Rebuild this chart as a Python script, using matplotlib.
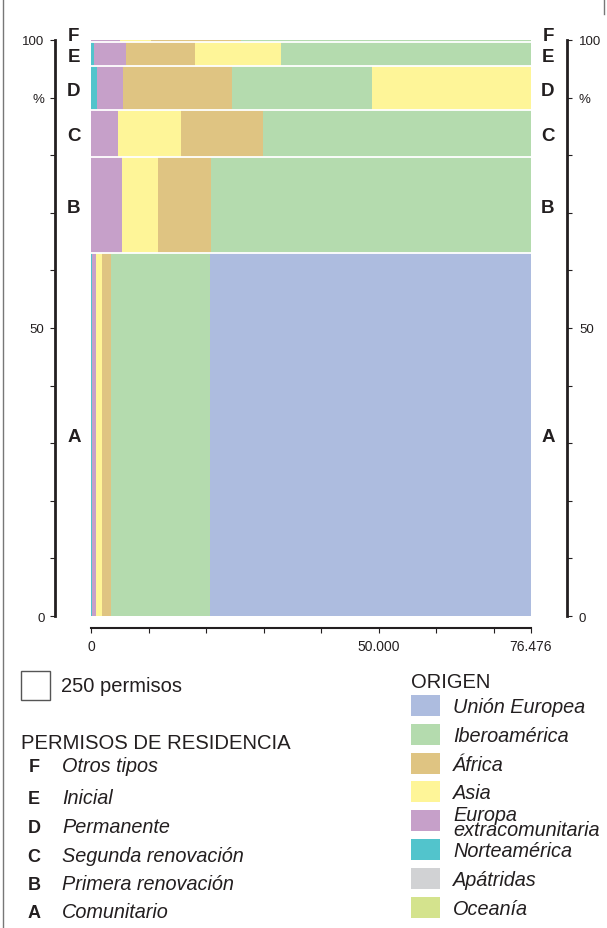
import matplotlib.pyplot as plt
import matplotlib.transforms as mtransforms
from matplotlib.patches import Rectangle
from matplotlib.lines import Line2D
import numpy as np

plt.rcParams['font.family'] = ['Liberation Sans', 'DejaVu Sans']

# ---- Data (permits by type of residence permit and origin) ----
row_codes = ['A', 'B', 'C', 'D', 'E', 'F']
row_names = ['Comunitario', 'Primera renovación', 'Segunda renovación',
             'Permanente', 'Inicial', 'Otros tipos']

# origins in left-to-right drawing order for each row, with permit counts
row_A_origins = ['Norteamérica', 'Europa extracomunitaria', 'Asia', 'África', 'Iberoamérica', 'Unión Europea']
row_A_permits = [110, 440, 660, 1010, 10790, 35141]
row_B_origins = ['Europa extracomunitaria', 'Asia', 'África', 'Iberoamérica']
row_B_permits = [900, 1050, 1530, 9290]
row_C_origins = ['Europa extracomunitaria', 'Asia', 'África', 'Iberoamérica']
row_C_permits = [380, 900, 1170, 3820]
row_D_origins = ['Norteamérica', 'Europa extracomunitaria', 'África', 'Iberoamérica', 'Asia']
row_D_permits = [85, 335, 1435, 1850, 2100]
row_E_origins = ['Norteamérica', 'Europa extracomunitaria', 'África', 'Asia', 'Iberoamérica']
row_E_permits = [20, 235, 505, 625, 1825]
row_F_origins = ['Europa extracomunitaria', 'Asia', 'África', 'Iberoamérica']
row_F_permits = [18, 19, 55, 178]

legend_origins = ['Unión Europea', 'Iberoamérica', 'África', 'Asia',
                  'Europa extracomunitaria', 'Norteamérica', 'Apátridas', 'Oceanía']
origin_colors = {
    'Unión Europea': '#adbcdf',
    'Iberoamérica': '#b4dbae',
    'África': '#dfc482',
    'Asia': '#fef598',
    'Europa extracomunitaria': '#c6a0c9',
    'Norteamérica': '#52c4cc',
    'Apátridas': '#d1d2d4',
    'Oceanía': '#d4e38d',
}
key_square = 250  # permits represented by the reference square

rows = [(row_A_origins, row_A_permits), (row_B_origins, row_B_permits),
        (row_C_origins, row_C_permits), (row_D_origins, row_D_permits),
        (row_E_origins, row_E_permits), (row_F_origins, row_F_permits)]
row_totals = [sum(p) for _, p in rows]
TOTAL = sum(row_totals)

INK = '#231f20'

# ---- Figure ----
W, H = 607, 929
fig = plt.figure(figsize=(W / 100, H / 100), dpi=100)


def fx(px):
    return px / W


def fy(py):
    return 1 - py / H


ax = fig.add_axes([fx(91), fy(617), fx(531) - fx(91), fy(41) - fy(617)])

bottom = 0
bounds = []
for (origins, permits), tot in zip(rows, row_totals):
    h = tot / TOTAL * 100
    left = 0
    for o, p in zip(origins, permits):
        w = p / tot * TOTAL
        ax.barh(bottom, w, left=left, height=h, align='edge',
                color=origin_colors[o], edgecolor='none', linewidth=0)
        left += w
    bounds.append((bottom, h))
    bottom += h

# white separators between rows
for b, h in bounds[1:]:
    ax.axhline(b, color='white', lw=1.3)

ax.set_xlim(0, TOTAL)
ax.set_ylim(0, 100)

# ---- Axes styling ----
px = 0.72  # points per pixel
ax.spines['top'].set_visible(False)
ax.spines['right'].set_visible(False)
ax.spines['left'].set_position(('outward', 36 * px))
ax.spines['left'].set_linewidth(2.0)
ax.spines['left'].set_color(INK)
ax.spines['bottom'].set_position(('outward', 12 * px))
ax.spines['bottom'].set_linewidth(1.5)
ax.spines['bottom'].set_color(INK)

yt = np.arange(0, 101, 10)
ylabels = ['0', '', '', '', '', '50', '', '', '', '%', '100']
ax.set_yticks(yt)
ax.set_yticklabels(ylabels)
ax.tick_params(axis='y', direction='out', length=5 * px, width=0.8,
               pad=4, labelsize=9.5, color=INK, labelcolor=INK)

xt = list(np.arange(0, 70001, 10000)) + [TOTAL]
xlabels = ['0', '', '', '', '', '50.000', '', '', f"{TOTAL:,}".replace(',', '.')]
ax.set_xticks(xt)
ax.set_xticklabels(xlabels)
ax.tick_params(axis='x', direction='out', length=5 * px, width=0.8,
               pad=4, labelsize=10, color=INK, labelcolor=INK)

ax2 = ax.twinx()
ax2.set_ylim(0, 100)
for s in ['top', 'left', 'bottom']:
    ax2.spines[s].set_visible(False)
ax2.spines['right'].set_position(('outward', 36 * px))
ax2.spines['right'].set_linewidth(2.0)
ax2.spines['right'].set_color(INK)
ax2.set_yticks(yt)
ax2.set_yticklabels(ylabels)
ax2.tick_params(axis='y', direction='out', length=5 * px, width=0.8,
                pad=5, labelsize=9.5, color=INK, labelcolor=INK)

# ---- Row letters on both sides ----
blend = mtransforms.blended_transform_factory(ax.transAxes, ax.transData)
blend = mtransforms.offset_copy(blend, fig=fig, y=-4.7, units='points')
for code, (b, h) in zip(row_codes, bounds):
    yc = b + h / 2
    if code == 'F':
        yc = b + h + 1.2
    for xa in (-0.039, 1.0386):
        ax.text(xa, yc, code, transform=blend, ha='center', va='baseline',
                fontsize=13.5, fontweight='bold', color=INK, clip_on=False)

# ---- Legend: size key ----
pos = ax.get_position()
area_px = (pos.width * W) * (pos.height * H)
side = np.sqrt(key_square / TOTAL * area_px)
fig.patches.append(Rectangle((fx(21), fy(672 + side)), side / W, side / H,
                             transform=fig.transFigure, facecolor='white',
                             edgecolor='#555555', lw=1))
fig.text(fx(61), fy(692), f"{key_square} permisos", fontsize=14.5, color=INK,
         va='baseline')

# ---- Legend: permit types ----
fig.text(fx(21), fy(749), 'PERMISOS DE RESIDENCIA', fontsize=14.6, color=INK,
         va='baseline')
type_baselines = [918, 890, 862, 833, 804, 772]
for code, name, yb in zip(row_codes, row_names, type_baselines):
    fig.text(fx(34), fy(yb), code, fontsize=13, fontweight='bold', color=INK,
             ha='center', va='baseline')
    fig.text(fx(62), fy(yb), name, fontsize=14.3, style='italic', color=INK,
             va='baseline')

# ---- Legend: origin ----
fig.text(fx(411), fy(688), 'ORIGEN', fontsize=14.5, color=INK, va='baseline')
for i, o in enumerate(legend_origins):
    yc = 706.5 + i * 28.8
    fig.patches.append(Rectangle((fx(411), fy(yc + 10.5)), 29 / W, 21 / H,
                                 transform=fig.transFigure,
                                 facecolor=origin_colors[o], edgecolor='none'))
    if o == 'Europa extracomunitaria':
        fig.text(fx(453), fy(yc + 1), 'Europa\nextracomunitaria', fontsize=14.3,
                 style='italic', color=INK, va='center', linespacing=0.72)
    else:
        fig.text(fx(453), fy(yc + 6.5), o, fontsize=14.3, style='italic',
                 color=INK, va='baseline')

# frame marks at the page edge
fig.add_artist(Line2D([fx(3), fx(3)], [0, 1], transform=fig.transFigure,
                      color='#777777', lw=1))
fig.add_artist(Line2D([fx(604), fx(604)], [fy(15), 1], transform=fig.transFigure,
                      color='#777777', lw=1))

fig.savefig('out.png', dpi=100)
